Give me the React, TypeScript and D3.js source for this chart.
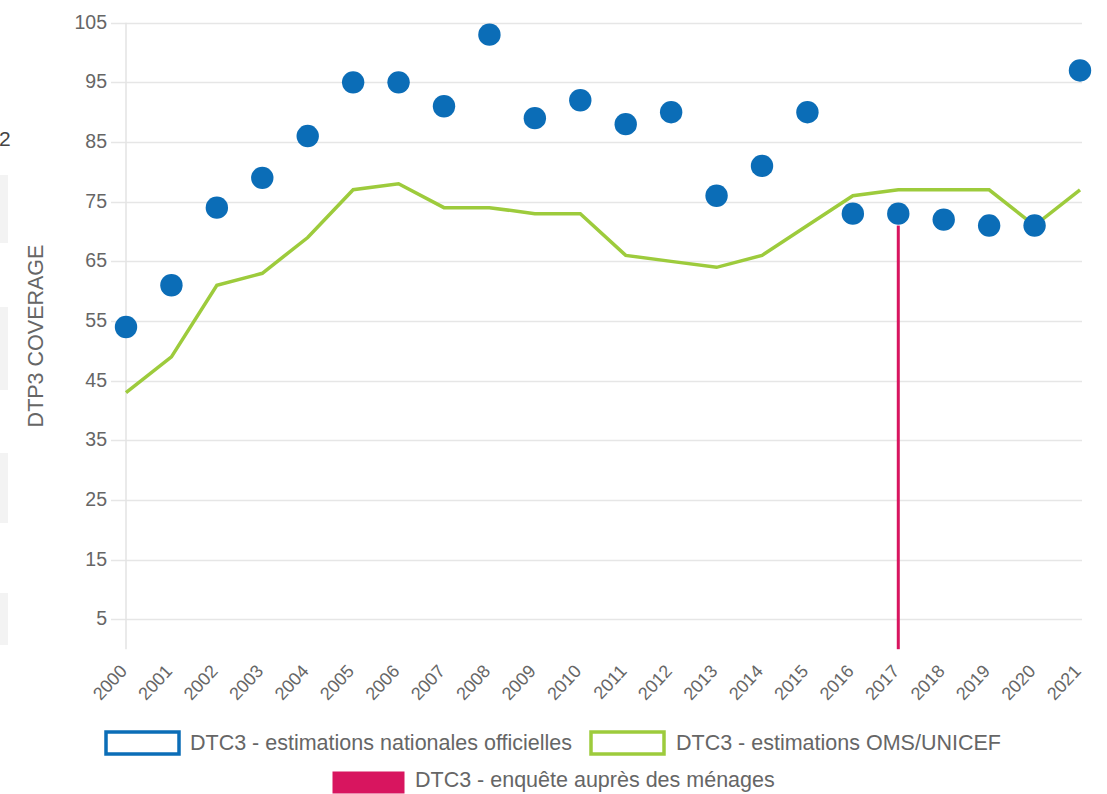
import React, { useRef, useEffect } from "react";
import * as d3 from "d3";

const years = [
  2000, 2001, 2002, 2003, 2004, 2005, 2006, 2007, 2008, 2009, 2010,
  2011, 2012, 2013, 2014, 2015, 2016, 2017, 2018, 2019, 2020, 2021,
];
// DTC3 - estimations nationales officielles (dots)
const officialValues = [
  54, 61, 74, 79, 86, 95, 95, 91, 103, 89, 92, 88, 90, 76, 81, 90, 73, 73, 72, 71, 71, 97,
];
// DTC3 - estimations OMS/UNICEF (line)
const whoValues = [
  43, 49, 61, 63, 69, 77, 78, 74, 74, 73, 73, 66, 65, 64, 66, 71, 76, 77, 77, 77, 71, 77,
];
// DTC3 - enquête auprès des ménages (bar)
const surveyYears = [2017];
const surveyValues = [71];
const yTicks = [5, 15, 25, 35, 45, 55, 65, 75, 85, 95, 105];

const legendItems = [
  { label: "DTC3 - estimations nationales officielles", color: "#0b6db7", kind: "outline" },
  { label: "DTC3 - estimations OMS/UNICEF", color: "#9dcb3c", kind: "outline" },
  { label: "DTC3 - enquête auprès des ménages", color: "#d8155f", kind: "fill" },
];

const W = 1107;
const H = 794;
const FONT = "'Liberation Sans', Arial, sans-serif";

export default function App() {
  const ref = useRef<SVGSVGElement | null>(null);

  useEffect(() => {
    if (!ref.current) return;
    const svg = d3.select(ref.current);
    svg.selectAll("*").remove();

    const margin = { left: 126, right: 25, top: 22.7 };

    const x = d3
      .scaleLinear()
      .domain([2000, 2021])
      .range([margin.left, margin.left + 954]);
    const y = d3.scaleLinear().domain([0, 105]).range([649.2, margin.top]);

    // left-edge page remnants
    const stubs = [
      [175, 243],
      [307, 390],
      [453, 523],
      [593, 645],
    ];
    stubs.forEach(([a, b]) => {
      svg.append("rect").attr("x", 0).attr("y", a).attr("width", 8).attr("height", b - a).attr("fill", "#f3f3f3");
    });
    svg
      .append("text")
      .attr("x", -1)
      .attr("y", 146)
      .attr("font-family", FONT)
      .attr("font-size", 21)
      .attr("fill", "#444")
      .text("2");

    // grid
    svg
      .append("g")
      .selectAll("line")
      .data(yTicks)
      .join("line")
      .attr("x1", 111)
      .attr("x2", x(2021) + 2)
      .attr("y1", (d) => Math.round(y(d)) + 0.5)
      .attr("y2", (d) => Math.round(y(d)) + 0.5)
      .attr("stroke", "#e6e6e6")
      .attr("stroke-width", 1.5);

    svg
      .append("line")
      .attr("x1", x(2000))
      .attr("x2", x(2000))
      .attr("y1", y(105))
      .attr("y2", y(0))
      .attr("stroke", "#e3e3e3")
      .attr("stroke-width", 1.5);

    // y tick labels
    svg
      .append("g")
      .selectAll("text")
      .data(yTicks)
      .join("text")
      .attr("x", 107)
      .attr("y", (d) => y(d))
      .attr("dy", "0.3em")
      .attr("text-anchor", "end")
      .attr("font-family", FONT)
      .attr("font-size", 19.5)
      .attr("fill", "#666")
      .text((d) => d);

    // y title
    svg
      .append("text")
      .attr("transform", `translate(43,336) rotate(-90)`)
      .attr("text-anchor", "middle")
      .attr("font-family", FONT)
      .attr("font-size", 21.5)
      .attr("fill", "#666")
      .text("DTP3 COVERAGE");

    // x tick labels
    svg
      .append("g")
      .selectAll("text")
      .data(years)
      .join("text")
      .attr("transform", (d) => `translate(${x(d) + 2},${672}) rotate(-47)`)
      .attr("text-anchor", "end")
      .attr("font-family", FONT)
      .attr("font-size", 18)
      .attr("fill", "#666")
      .text((d) => d);

    // survey bar
    svg
      .append("g")
      .selectAll("rect")
      .data(surveyYears)
      .join("rect")
      .attr("x", (d) => x(d) - 1.5)
      .attr("width", 3)
      .attr("y", (_, i) => y(surveyValues[i]))
      .attr("height", (_, i) => y(0) - y(surveyValues[i]))
      .attr("fill", legendItems[2].color);

    // WHO/UNICEF line
    const line = d3
      .line<number>()
      .x((_, i) => x(years[i]))
      .y((d) => y(d));
    svg
      .append("path")
      .datum(whoValues)
      .attr("d", line)
      .attr("fill", "none")
      .attr("stroke", legendItems[1].color)
      .attr("stroke-width", 3.5);

    // official dots
    svg
      .append("g")
      .selectAll("circle")
      .data(officialValues)
      .join("circle")
      .attr("cx", (_, i) => x(years[i]))
      .attr("cy", (d) => y(d))
      .attr("r", 11.2)
      .attr("fill", legendItems[0].color);

    // legend
    const legendPos = [
      { x: 106, y: 732, tx: 190, ty: 750 },
      { x: 591, y: 732, tx: 676, ty: 750 },
      { x: 334, y: 772, tx: 415, ty: 787 },
    ];
    legendItems.forEach((item, i) => {
      const p = legendPos[i];
      const g = svg.append("g");
      if (item.kind === "outline") {
        g.append("rect")
          .attr("x", p.x)
          .attr("y", p.y)
          .attr("width", 73)
          .attr("height", 22)
          .attr("fill", "white")
          .attr("stroke", item.color)
          .attr("stroke-width", 3.5);
      } else {
        g.append("rect")
          .attr("x", p.x - 1.5)
          .attr("y", p.y - 0.5)
          .attr("width", 72)
          .attr("height", 22)
          .attr("fill", item.color);
      }
      g.append("text")
        .attr("x", p.tx)
        .attr("y", p.ty)
        .attr("font-family", FONT)
        .attr("font-size", 21.5)
        .attr("fill", "#666")
        .text(item.label);
    });
  }, []);

  return (
    <svg
      ref={ref}
      width={W}
      height={H}
      style={{ position: "absolute", left: 0, top: 0, background: "white" }}
    />
  );
}
